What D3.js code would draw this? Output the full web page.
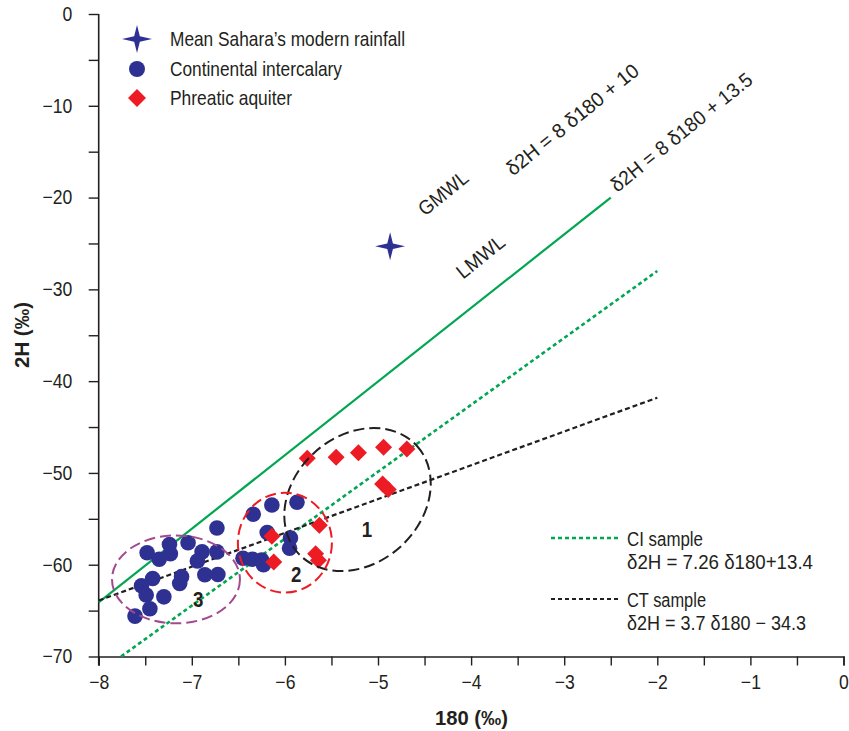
<!DOCTYPE html>
<html>
<head>
<meta charset="utf-8">
<script src="https://cdn.jsdelivr.net/npm/d3@7/dist/d3.min.js"></script>
<style>
  html, body { margin: 0; padding: 0; background: #fff; }
  svg { display: block; font-family: "Liberation Sans", Arial, sans-serif; }
</style>
</head>
<body>
<svg id="chart" width="849" height="731"></svg>
<script>
// Isotope data: δ18O (x) vs δ2H (y), in ‰
const ciX = [-6.73, -7.48, -7.24, -7.35, -7.23, -7.04, -6.89, -6.73, -6.94, -7.11, -7.13, -6.86, -6.72, -7.42, -7.54, -7.49, -7.30, -7.45, -7.61,
             -6.34, -6.14, -5.87, -6.19, -5.94, -5.95, -6.45, -6.35, -6.25, -6.23];
const ciY = [-56.0, -58.7, -57.8, -59.4, -58.8, -57.6, -58.6, -58.6, -59.6, -61.3, -62.05, -61.1, -61.07, -61.5, -62.3, -63.3, -63.5, -64.8, -65.6,
             -54.5, -53.5, -53.2, -56.5, -57.1, -58.2, -59.3, -59.4, -59.5, -60.0];
const paX = [-5.76, -5.45, -5.21, -4.94, -4.69, -4.95, -4.89, -5.63, -6.14, -5.67, -5.64, -6.12];
const paY = [-48.4, -48.3, -47.8, -47.2, -47.4, -51.2, -51.8, -55.7, -56.9, -58.8, -59.5, -59.7];
const saharaRain = [-4.87, -25.3];

// Regression / meteoric water lines (end points)
const lmwlLine = [[-8, -64.1], [-2.5, -20.0]];
const ciLine = [[-7.76, -70], [-2.0, -28.0]];
const ctLine = [[-8, -63.9], [-2.0, -41.8]];

// Groups: centre (δ18O, δ2H), semi-axes (δ18O units, δ2H units), tilt in degrees
const groupNames = ["1", "2", "3"];
const groupCx = [-5.22, -6.0, -7.17];
const groupCy = [-52.9, -57.6, -61.6];
const groupRx = [0.86, 0.505, 0.687];
const groupRy = [6.95, 5.44, 4.79];
const groupTilt = [-42, 0, 0];
const groupColors = ["#231f20", "#ed1c24", "#a3498f"];
const groupLabelX = [-5.12, -5.88, -6.93];
const groupLabelY = [-56.2, -61.1, -63.8];

const xTicks = [-8, -7, -6, -5, -4, -3, -2, -1, 0];
const xMinor = d3.range(-8, 0.01, 0.5);
const yTicks = [0, -10, -20, -30, -40, -50, -60, -70];
const yMinor = d3.range(0, -70.01, -5);

const BLUE = "#2e3192", RED = "#ed1c24", GREEN = "#00a651", INK = "#231f20";
const SQUEEZE = 0.88; // horizontal squeeze that gives the condensed look

const svg = d3.select("#chart");
const x = d3.scaleLinear().domain([-8, 0]).range([98.7, 843.5]);
const y = d3.scaleLinear().domain([-70, 0]).range([656.5, 14]);
const fmt = d => d === 0 ? "0" : "\u2212" + Math.abs(d);

// Axes
const gx = svg.append("g").attr("transform", `translate(0,${y(-70)})`)
  .call(d3.axisBottom(x).tickValues(xMinor).tickSize(9).tickPadding(9.5)
    .tickFormat(d => xTicks.includes(d) ? fmt(d) : ""));
const gy = svg.append("g").attr("transform", `translate(${x(-8)},0)`)
  .call(d3.axisLeft(y).tickValues(yMinor).tickSize(10).tickPadding(16)
    .tickFormat(d => yTicks.includes(d) ? fmt(d) : ""));
[gx, gy].forEach(g => {
  g.select(".domain").attr("stroke", INK).attr("stroke-width", 1.6);
  g.selectAll(".tick line").attr("stroke", INK).attr("stroke-width", 1.4);
  g.selectAll(".tick text").attr("fill", INK).attr("font-size", 20)
    .attr("font-family", "Liberation Sans, Arial, sans-serif")
    .attr("transform", `scale(${SQUEEZE},1)`);
});
gy.selectAll(".tick text").attr("x", -26.4 / SQUEEZE);
gy.select(".domain").attr("d", `M0,${y(0)}V${y(-70) + 9}`);

// Axis titles
svg.append("text").attr("x", 435).attr("y", 725)
  .attr("font-size", 21).attr("font-weight", "bold").attr("fill", INK)
  .attr("textLength", 73).attr("lengthAdjust", "spacingAndGlyphs").text("180 (\u2030)");
svg.append("text").attr("transform", `translate(29,368) rotate(-90)`)
  .attr("font-size", 21).attr("font-weight", "bold").attr("fill", INK)
  .attr("textLength", 66).attr("lengthAdjust", "spacingAndGlyphs").text("2H (\u2030)");

// Lines
const line = d3.line().x(d => x(d[0])).y(d => y(d[1]));
svg.append("path").attr("d", line(lmwlLine)).attr("stroke", GREEN).attr("stroke-width", 2.2).attr("fill", "none");
svg.append("path").attr("d", line(ciLine)).attr("stroke", GREEN).attr("stroke-width", 2.6)
  .attr("stroke-dasharray", "4,3").attr("fill", "none");
svg.append("path").attr("d", line(ctLine)).attr("stroke", INK).attr("stroke-width", 2.2)
  .attr("stroke-dasharray", "5,3").attr("fill", "none");

// Points: continental intercalary
svg.append("g").selectAll("circle").data(d3.zip(ciX, ciY)).join("circle")
  .attr("cx", d => x(d[0])).attr("cy", d => y(d[1])).attr("r", 7.8).attr("fill", BLUE);

// Points: phreatic aquifer (diamonds)
const diamond = (cx, cy, s) => `M${cx},${cy - s}L${cx + s},${cy}L${cx},${cy + s}L${cx - s},${cy}Z`;
svg.append("g").selectAll("path").data(d3.zip(paX, paY)).join("path")
  .attr("d", d => diamond(x(d[0]), y(d[1]), 8.5)).attr("fill", RED);

// Four-pointed star
const star = (cx, cy, rx, ry, ri) => {
  const pts = [];
  for (let i = 0; i < 8; i++) {
    const a = -Math.PI / 2 + i * Math.PI / 4;
    const outer = i % 2 === 0;
    pts.push([cx + Math.cos(a) * (outer ? rx : ri), cy + Math.sin(a) * (outer ? ry : ri)]);
  }
  return "M" + pts.map(p => p.join(",")).join("L") + "Z";
};
svg.append("path").attr("d", star(x(saharaRain[0]), y(saharaRain[1]), 15, 14, 4)).attr("fill", BLUE);

// Group ellipses
const groups = svg.append("g");
groupNames.forEach((n, i) => {
  const cx = x(groupCx[i]), cy = y(groupCy[i]);
  const rx = x(groupCx[i] + groupRx[i]) - cx;
  const ry = y(groupCy[i] - groupRy[i]) - cy;
  groups.append("ellipse").attr("cx", 0).attr("cy", 0).attr("rx", rx).attr("ry", ry)
    .attr("transform", `translate(${cx},${cy}) rotate(${groupTilt[i]})`)
    .attr("fill", "none").attr("stroke", groupColors[i]).attr("stroke-width", 2)
    .attr("stroke-dasharray", "11,5");
  groups.append("text")
    .attr("transform", `translate(${x(groupLabelX[i])},${y(groupLabelY[i])}) scale(0.85,1)`)
    .attr("text-anchor", "middle").attr("dominant-baseline", "central")
    .attr("font-size", 22).attr("font-weight", "bold").attr("fill", INK).text(n);
});

// Line annotations (rotated)
const angle = -39;
const notes = [
  { t: "GMWL", x: -4.495, y: -22.1, w: 58 },
  { t: "LMWL", x: -4.087, y: -28.96, w: 56 },
  { t: "\u03b42H = 8 \u03b4180 + 10", x: -3.55, y: -17.7, w: 164 },
  { t: "\u03b42H = 8 \u03b4180 + 13.5", x: -2.43, y: -19.5, w: 176 }
];
svg.append("g").selectAll("text").data(notes).join("text")
  .attr("transform", d => `translate(${x(d.x)},${y(d.y)}) rotate(${angle})`)
  .attr("font-size", 20).attr("fill", INK)
  .attr("textLength", d => d.w).attr("lengthAdjust", "spacingAndGlyphs").text(d => d.t);

// Symbol legend
const leg = svg.append("g").attr("font-size", 21).attr("fill", INK);
leg.append("path").attr("d", star(137, 39, 15, 14, 4)).attr("fill", BLUE);
leg.append("circle").attr("cx", 137).attr("cy", 69).attr("r", 8).attr("fill", BLUE);
leg.append("path").attr("d", diamond(137, 98, 9)).attr("fill", RED);
const legItems = [
  { t: "Mean Sahara\u2019s modern rainfall", y: 46, w: 235 },
  { t: "Continental intercalary", y: 76, w: 172 },
  { t: "Phreatic aquiter", y: 105, w: 122 }
];
leg.selectAll("text").data(legItems).join("text")
  .attr("x", 170).attr("y", d => d.y).attr("textLength", d => d.w)
  .attr("lengthAdjust", "spacingAndGlyphs").text(d => d.t);

// Regression legend
const leg2 = svg.append("g").attr("font-size", 20).attr("fill", INK);
leg2.append("line").attr("x1", 551).attr("x2", 618).attr("y1", 538).attr("y2", 538)
  .attr("stroke", GREEN).attr("stroke-width", 2.4).attr("stroke-dasharray", "4,3");
leg2.append("line").attr("x1", 551).attr("x2", 618).attr("y1", 599).attr("y2", 599)
  .attr("stroke", INK).attr("stroke-width", 2).attr("stroke-dasharray", "4,3");
const leg2Items = [
  { t: "CI sample", y: 546, w: 76 },
  { t: "\u03b42H = 7.26 \u03b4180+13.4", y: 569, w: 186 },
  { t: "CT sample", y: 607, w: 79 },
  { t: "\u03b42H = 3.7 \u03b4180 \u2212 34.3", y: 630, w: 179 }
];
leg2.selectAll("text").data(leg2Items).join("text")
  .attr("x", 627).attr("y", d => d.y).attr("textLength", d => d.w)
  .attr("lengthAdjust", "spacingAndGlyphs").text(d => d.t);
</script>
</body>
</html>
